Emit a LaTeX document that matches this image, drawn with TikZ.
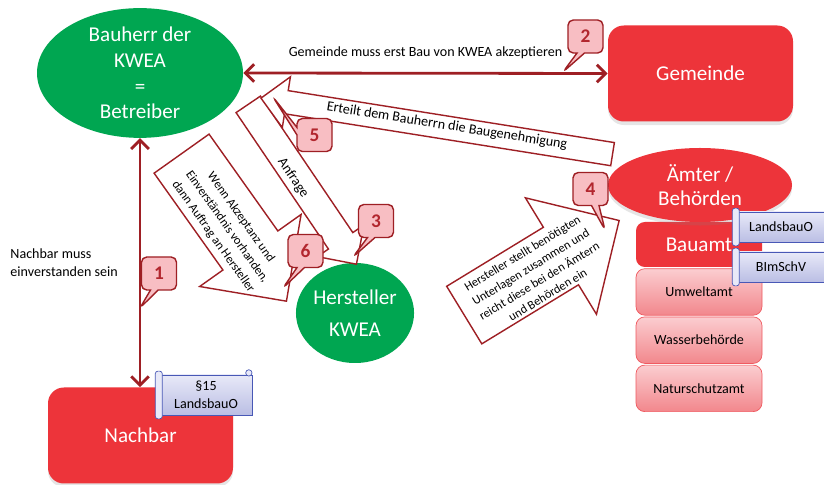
\documentclass[tikz,border=0pt]{standalone}
\usepackage{fontspec}
\setmainfont{Carlito}
\usetikzlibrary{arrows.meta, positioning, shapes.geometric, shapes.arrows, shapes.callouts, shadows}
\definecolor{darkred}{RGB}{158,31,36}
\definecolor{numred}{RGB}{178,38,46}
\definecolor{kgreen}{RGB}{0,166,81}
\definecolor{kred}{RGB}{237,52,58}
\definecolor{numpink}{RGB}{248,190,195}
\definecolor{amttop}{RGB}{251,205,208}
\definecolor{amtbot}{RGB}{242,135,140}
\definecolor{amtline}{RGB}{240,90,96}
\definecolor{scrtop}{RGB}{232,233,248}
\definecolor{scrbot}{RGB}{186,190,228}
\definecolor{scrline}{RGB}{72,88,182}

\begin{document}
\begin{tikzpicture}[
  party/.style={ellipse, fill=kgreen, text=white, align=center, inner sep=0pt,
                font=\fontsize{12}{14.6}\selectfont},
  office/.style={ellipse, fill=kred, text=white, align=center, inner sep=0pt,
                 drop shadow={opacity=0.2, shadow xshift=0pt, shadow yshift=-2pt},
                 font=\fontsize{12}{13.7}\selectfont},
  redbox/.style={rectangle, rounded corners=9pt, fill=kred, text=white,
                 minimum width=3.7cm, minimum height=1.92cm,
                 drop shadow={opacity=0.2, shadow xshift=0pt, shadow yshift=-2pt},
                 font=\fontsize{12}{14}\selectfont},
  bauamtbox/.style={rectangle, rounded corners=5pt, fill=kred, text=white,
                    minimum width=2.52cm, minimum height=0.9cm,
                    font=\fontsize{12}{14}\selectfont},
  amt/.style={rectangle, rounded corners=5pt, draw=amtline, top color=amttop,
              bottom color=amtbot, minimum width=2.52cm, minimum height=0.93cm,
              font=\fontsize{8}{10}\selectfont},
  num/.style={rectangle callout, rounded corners=3pt, draw=darkred, thick,
              fill=numpink, text=numred, minimum width=0.7cm, minimum height=0.66cm,
              callout pointer width=0.15cm, font=\fontsize{11}{11}\selectfont\bfseries},
  blockarr/.style={single arrow, draw=darkred, thick, fill=white, inner xsep=0pt,
                   minimum width=0pt},
  arrtext/.style={align=center, inner sep=0pt, text=black,
                  font=\fontsize{8}{9.4}\selectfont},
  smalltext/.style={align=center, inner sep=0pt, text=black,
                    font=\fontsize{7.1}{9.6}\selectfont},
  scroll/.style={rectangle, draw=scrline, top color=scrtop, bottom color=scrbot,
                 align=center, font=\fontsize{8}{10}\selectfont},
  roll/.style={draw=scrline, fill=scrtop, rounded corners=1.5pt},
  arrow/.style={{Straight Barb[length=5pt,width=10pt]}-{Straight Barb[length=5pt,width=10pt]},
                line width=1.6pt, darkred},
  note/.style={align=left, text=black, font=\fontsize{8}{10}\selectfont}
]
\useasboundingbox[fill=white] (0,0) rectangle (16.48,9.7);

% Beteiligte
\node[party, minimum width=4.12cm, minimum height=2.52cm] (bauherr) at (2.8, 8.24)
  {Bauherr der\\KWEA\\=\\Betreiber};
\node[party, minimum width=2.32cm, minimum height=2cm,
      font=\fontsize{12}{18}\selectfont] (hersteller) at (7.1, 3.44)
  {Hersteller\\KWEA};
\node[redbox] (gemeinde) at (14.01, 8.23) {Gemeinde};
\node[redbox] (nachbar) at (2.81, 0.99) {Nachbar};

% Aemter
\node[bauamtbox] (bauamt) at (13.98, 4.81) {Bauamt};
\node[amt, below=0.02cm of bauamt] (umwelt) {Umweltamt};
\node[amt, below=0.02cm of umwelt] (wasser) {Wasserbehörde};
\node[amt, below=0.02cm of wasser] (natur) {Naturschutzamt};
\node[office, minimum width=3.68cm, minimum height=1.48cm] (aemter) at (14, 6)
  {Ämter /\\Behörden};

% Blockpfeile
\node[blockarr, rotate=-55.9, minimum height=3.86cm, inner ysep=0.28cm,
      single arrow head extend=0.27cm, anchor=tip] (anfrage) at (7.14, 4.4) {};
\node[blockarr, rotate=-54.6, minimum height=3.62cm, inner ysep=0.66cm,
      single arrow head extend=0.57cm, anchor=tip] (auftrag) at (5.74, 3.66) {};
\node[blockarr, shape border rotate=180, rotate=-9.05, minimum height=7.12cm,
      inner ysep=0.22cm, single arrow head extend=0.28cm, anchor=tip] (erteilt)
  at (5.2, 7.74) {};
\node[blockarr, rotate=31.4, minimum height=3.63cm, inner ysep=0.66cm,
      single arrow head extend=0.69cm, anchor=tip] (unterlagen) at (12.4, 5.3) {};

\node[arrtext, rotate=-55.9] (anfragetext) at (5.86, 6.14) {Anfrage};
\node[smalltext, rotate=-54.6] (auftragtext) at (4.54, 5.16)
  {Wenn Akzeptanz und\\Einverständnis vorhanden,\\dann Auftrag an Hersteller};
\node[arrtext, rotate=-9.05] (erteilttext) at (8.94, 7.18)
  {Erteilt dem Bauherrn die Baugenehmigung};
\node[smalltext, rotate=31.4, font=\fontsize{7}{9.2}\selectfont] (unterlagentext)
  at (10.7, 4.22)
  {Hersteller stellt benötigten\\Unterlagen zusammen und\\reicht diese bei den Ämtern\\und Behörden ein};

% Verbindungen
\draw[arrow] (bauherr.east) -- node[above=4pt, text=black, font=\fontsize{8}{10}\selectfont] (akzept)
  {Gemeinde muss erst Bau von KWEA akzeptieren} (gemeinde.west);
\draw[arrow] (bauherr.south) -- node[note, left=0.3cm] (einverst)
  {Nachbar muss\\einverstanden sein} (bauherr.south |- nachbar.north);

% Schritte
\coordinate (p1) at (2.8, 3.54);
\coordinate (p2) at (11.26, 8.26);
\coordinate (p3) at (7.06, 4.56);
\coordinate (p4) at (12.1, 5.1);
\coordinate (p5) at (5.46, 7.76);
\coordinate (p6) at (5.66, 3.94);
\node[num, callout absolute pointer={(p1)}] (n1) at (3.18, 4.23) {1};
\node[num, callout absolute pointer={(p2)}] (n2) at (11.71, 8.97) {2};
\node[num, callout absolute pointer={(p3)}] (n3) at (7.52, 5.28) {3};
\node[num, callout absolute pointer={(p4)}] (n4) at (11.81, 5.92) {4};
\node[num, callout absolute pointer={(p5)}] (n5) at (6.29, 7.0) {5};
\node[num, callout absolute pointer={(p6)}] (n6) at (6.11, 4.68) {6};

% Gesetze
\node[scroll, minimum width=1.84cm, minimum height=0.8cm] (para) at (4.12, 1.8)
  {§15\\LandsbauO};
\node[scroll, minimum width=1.76cm, minimum height=0.6cm] (lbo) at (15.62, 5.16)
  {LandsbauO};
\node[scroll, minimum width=1.76cm, minimum height=0.6cm] (bimsch) at (15.62, 4.36)
  {BImSchV};
\draw[roll] ([xshift=-2.5pt,yshift=2pt]para.north west) rectangle ([xshift=1.5pt,yshift=-2pt]para.south west);
\draw[roll] ([xshift=-2pt,yshift=1pt]para.north east) circle (1.8pt);
\draw[roll] ([xshift=-2.5pt,yshift=2pt]lbo.north west) rectangle ([xshift=1.5pt,yshift=-2pt]lbo.south west);
\draw[roll] ([xshift=-2.5pt,yshift=2pt]bimsch.north west) rectangle ([xshift=1.5pt,yshift=-2pt]bimsch.south west);

\end{tikzpicture}
\end{document}
